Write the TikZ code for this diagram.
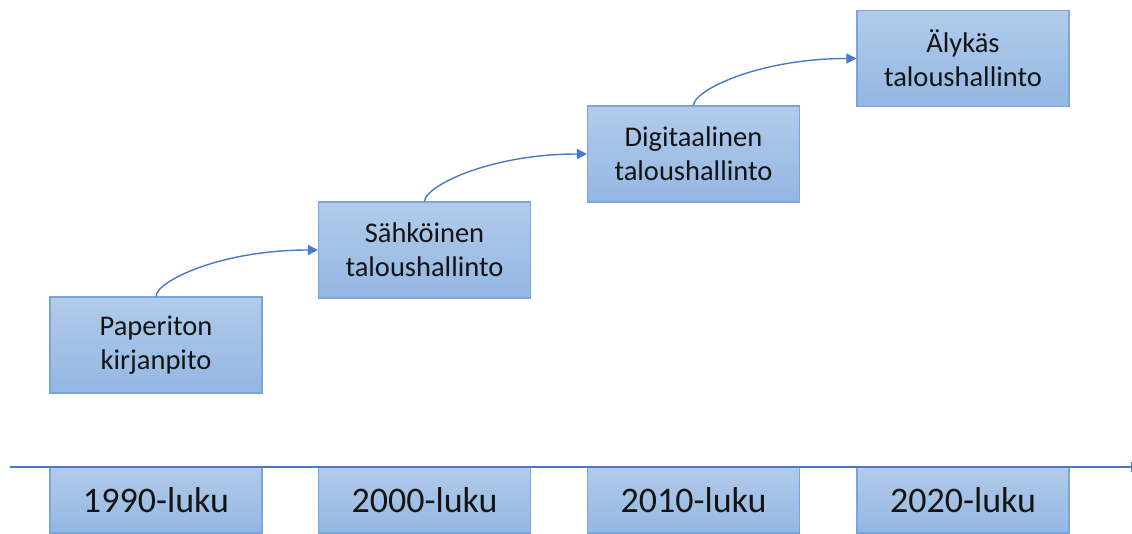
\documentclass[tikz,border=0pt]{standalone}
\usepackage{fontspec}
\setmainfont{Carlito}
\usetikzlibrary{arrows.meta}
\definecolor{boxtop}{RGB}{178,203,234}
\definecolor{boxbot}{RGB}{147,183,227}
\definecolor{boxline}{RGB}{122,164,218}
\definecolor{conn}{RGB}{72,120,200}
\definecolor{txt}{RGB}{20,20,20}
\tikzset{
  stagebox/.style={draw=boxline, line width=1.1pt, top color=boxtop, bottom color=boxbot,
    minimum width=212pt, minimum height=96pt, inner sep=0pt, align=center,
    text=txt, font=\fontsize{28.5}{34}\selectfont},
  erabox/.style={draw=boxline, line width=1.1pt, top color=boxtop, bottom color=boxbot,
    minimum width=212pt, minimum height=66pt, inner sep=0pt, align=center,
    text=txt, font=\fontsize{36}{43}\selectfont},
  conna/.style={draw=conn, line width=1.4pt, -{Triangle[length=10pt,width=10pt]}},
  timeline/.style={draw=conn, line width=1.8pt, -{Triangle[length=8pt,width=10pt]}}
}
\begin{document}
\begin{tikzpicture}[x=1pt,y=-1pt]
\useasboundingbox (0,0) rectangle (1132,534);
\node[stagebox] (p) at (156,345) {Paperiton\\kirjanpito};
\node[stagebox] (s) at (424.5,250) {Sähköinen\\taloushallinto};
\node[stagebox] (d) at (693.5,154) {Digitaalinen\\taloushallinto};
\node[stagebox] (a) at (963,58.5) {Älykäs\\taloushallinto};
\node[erabox] (e1) at (156,500) {1990-luku};
\node[erabox] (e2) at (424.5,500) {2000-luku};
\node[erabox] (e3) at (693.5,500) {2010-luku};
\node[erabox] (e4) at (963,500) {2020-luku};
\coordinate (t0) at (10,467);
\coordinate (t1) at (1139,467);
\draw[timeline] (t0) -- (t1);
\draw[conna] (p.north) .. controls +(0,-15) and +(-98,0) .. (s.west);
\draw[conna] (s.north) .. controls +(0,-15) and +(-98,0) .. (d.west);
\draw[conna] (d.north) .. controls +(0,-15) and +(-98,0) .. (a.west);
\end{tikzpicture}
\end{document}
